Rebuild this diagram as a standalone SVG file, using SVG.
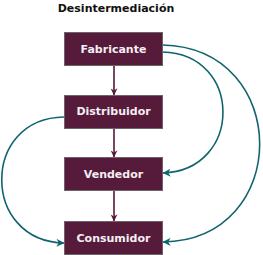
<svg xmlns="http://www.w3.org/2000/svg" width="263" height="255" viewBox="0 0 263 255">
<style>
.box{fill:#561a3a;stroke:#6e6468;stroke-width:1}
.lbl{font-family:"DejaVu Sans",Verdana,sans-serif;font-weight:bold;font-size:11px;fill:#f4eef2;text-anchor:middle}
.title{font-family:"DejaVu Sans",Verdana,sans-serif;font-weight:bold;font-size:11px;fill:#111;text-anchor:middle}
.down{stroke:#561a3a;stroke-width:1.6;fill:none}
.teal{stroke:#0f6470;stroke-width:1.6;fill:none}
</style>
<defs>
<marker id="am" viewBox="0 0 10 10" refX="9.5" refY="5" markerWidth="7" markerHeight="7" markerUnits="userSpaceOnUse" orient="auto">
<path d="M0,0 L10,5 L0,10 L3,5 Z" fill="#561a3a"/>
</marker>
<marker id="at" viewBox="0 0 10 10" refX="9.5" refY="5" markerWidth="8" markerHeight="8" markerUnits="userSpaceOnUse" orient="auto">
<path d="M0,0 L10,5 L0,10 L3,5 Z" fill="#0f6470"/>
</marker>
</defs>
<text class="title" x="116" y="11.5">Desintermediación</text>
<g id="connectors">
<line class="down" x1="114" y1="65" x2="114" y2="95" marker-end="url(#am)"/>
<line class="down" x1="114" y1="128" x2="114" y2="157" marker-end="url(#am)"/>
<line class="down" x1="114" y1="190" x2="114" y2="221" marker-end="url(#am)"/>
<path class="teal" d="M162.5,45 C292,48 292,240 163,242" marker-end="url(#at)"/>
<path class="teal" d="M162.5,52 C243,54 243,170 163,173" marker-end="url(#at)"/>
<path class="teal" d="M64,117 C-19,118 -19,241 64,243" marker-end="url(#at)"/>
</g>
<g id="fabricante"><rect class="box" x="64.5" y="32.5" width="98" height="33"/><text class="lbl" x="113.5" y="52.5">Fabricante</text></g>
<g id="distribuidor"><rect class="box" x="64.5" y="95.5" width="98" height="33"/><text class="lbl" x="113.5" y="114.5">Distribuidor</text></g>
<g id="vendedor"><rect class="box" x="64.5" y="157.5" width="98" height="33"/><text class="lbl" x="113.5" y="177.5">Vendedor</text></g>
<g id="consumidor"><rect class="box" x="64.5" y="221.5" width="98" height="33"/><text class="lbl" x="113.5" y="241.5">Consumidor</text></g>
</svg>
